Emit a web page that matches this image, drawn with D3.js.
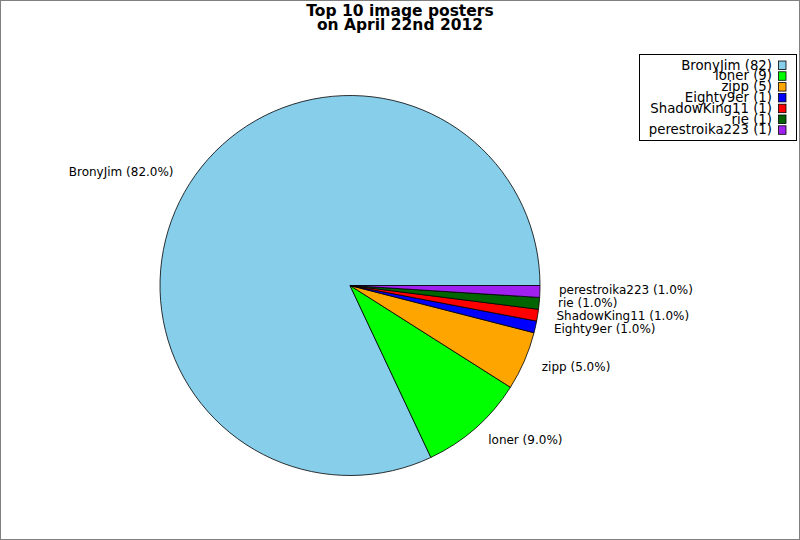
<!DOCTYPE html>
<html>
<head>
<meta charset="utf-8">
<script src="https://cdn.jsdelivr.net/npm/d3@7"></script>
<style>
  body { margin: 0; background: #fff; }
  svg { display: block; font-family: "DejaVu Sans", sans-serif; }
</style>
</head>
<body>
<div id="chart"></div>
<script>
var names = ["BronyJim", "loner", "zipp", "Eighty9er", "ShadowKing11", "rie", "perestroika223"];
var counts = [82, 9, 5, 1, 1, 1, 1];
var colors = ["#87ceeb", "#00ff00", "#ffa500", "#0000ff", "#ff0000", "#006400", "#a020f0"];
var titleLines = ["Top 10 image posters", "on April 22nd 2012"];

var width = 800, height = 540,
    cx = 350, cy = 285.5, radius = 190;

var total = d3.sum(counts);
var data = names.map(function(n, i) { return {name: n, value: counts[i], color: colors[i]}; });

var svg = d3.select("#chart").append("svg")
    .attr("width", width)
    .attr("height", height);

svg.append("rect")
    .attr("x", 0.5).attr("y", 0.5)
    .attr("width", width - 1).attr("height", height - 1)
    .attr("fill", "#fff")
    .attr("stroke", "#808080");

// matplotlib style: start at 3 o'clock, go counterclockwise
var pie = d3.pie()
    .sort(null)
    .value(function(d) { return d.value; })
    .startAngle(Math.PI / 2)
    .endAngle(Math.PI / 2 - 2 * Math.PI);

var arc = d3.arc().innerRadius(0).outerRadius(radius);

var g = svg.append("g").attr("transform", "translate(" + cx + "," + cy + ")");

var arcs = pie(data);

g.selectAll("path")
    .data(arcs)
    .enter().append("path")
    .attr("d", arc)
    .attr("fill", function(d) { return d.data.color; })
    .attr("stroke", "#000")
    .attr("stroke-width", 0.8)
    .attr("stroke-linejoin", "round");

g.selectAll("text.lbl")
    .data(arcs)
    .enter().append("text")
    .attr("class", "lbl")
    .each(function(d) {
      var a = (d.startAngle + d.endAngle) / 2;
      var x = Math.sin(a) * radius * 1.1,
          y = -Math.cos(a) * radius * 1.1;
      d3.select(this)
        .attr("x", x)
        .attr("y", y - 2)
        .attr("text-anchor", x >= 0 ? "start" : "end");
    })
    .attr("dominant-baseline", "central")
    .style("font-size", "12px")
    .text(function(d) { return d.data.name + " (" + (100 * d.data.value / total).toFixed(1) + "%)"; });

svg.selectAll("text.title")
    .data(titleLines)
    .enter().append("text")
    .attr("class", "title")
    .attr("x", 400)
    .attr("y", function(d, i) { return 16 + i * 13.5; })
    .attr("text-anchor", "middle")
    .style("font-size", "15.5px")
    .style("font-weight", "bold")
    .text(function(d) { return d; });

// legend
var legend = svg.append("g");
legend.append("rect")
    .attr("x", 639.5).attr("y", 54.5)
    .attr("width", 157).attr("height", 86)
    .attr("fill", "#fff")
    .attr("stroke", "#000");

var rowH = 10.8;
var rows = legend.selectAll("g.row")
    .data(data)
    .enter().append("g")
    .attr("class", "row")
    .attr("transform", function(d, i) { return "translate(0," + (65 + i * rowH) + ")"; });

rows.append("text")
    .attr("x", 772)
    .attr("y", 0)
    .attr("dominant-baseline", "central")
    .attr("text-anchor", "end")
    .style("font-size", "13.3px")
    .text(function(d) { return d.name + " (" + d.value + ")"; });

rows.append("rect")
    .attr("x", 778.5).attr("y", -4)
    .attr("width", 7.5).attr("height", 8.5)
    .attr("fill", function(d) { return d.color; })
    .attr("stroke", "#000")
    .attr("stroke-width", 0.8);
</script>
</body>
</html>
